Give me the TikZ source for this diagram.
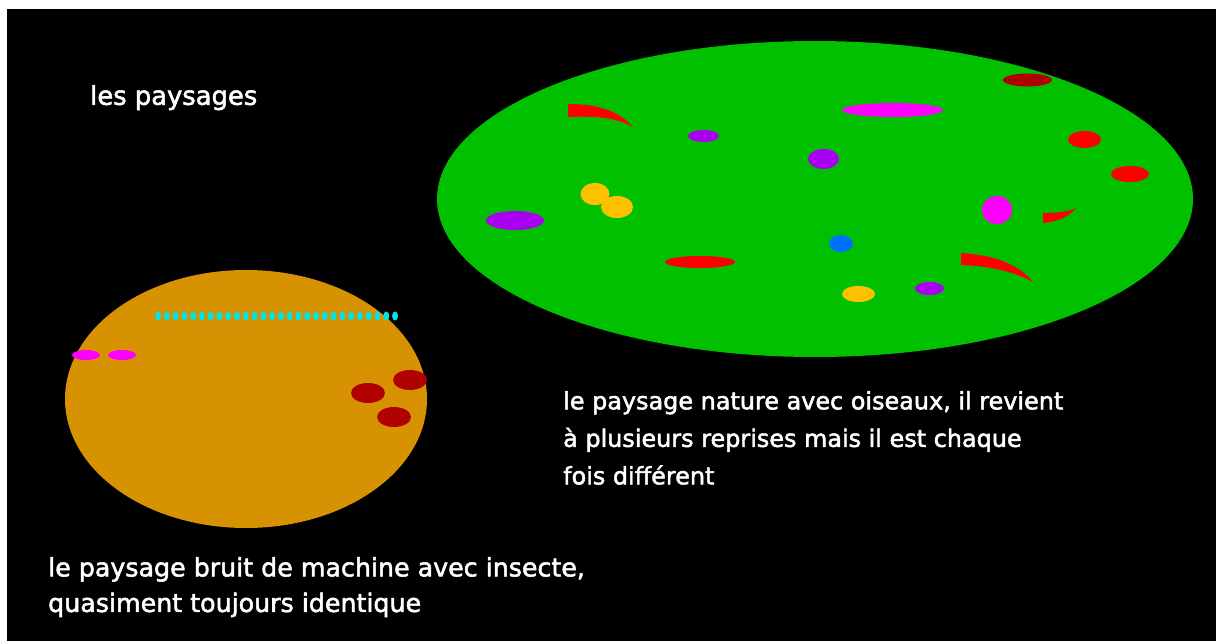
\documentclass[tikz,border=0pt]{standalone}
\usepackage{fontspec}
\setmainfont{DejaVu Sans}[BoldFont={DejaVu Sans}, BoldFeatures={FakeBold=2}]
\definecolor{bggreen}{RGB}{0,192,0}
\definecolor{bgorange}{RGB}{214,146,0}
\definecolor{dred}{RGB}{176,0,0}
\definecolor{bred}{RGB}{255,0,0}
\definecolor{purp}{RGB}{168,0,240}
\definecolor{magn}{RGB}{255,0,255}
\definecolor{yel}{RGB}{255,192,0}
\definecolor{blu}{RGB}{0,112,255}
\definecolor{cyn}{RGB}{0,228,228}
\tikzset{
  label text/.style={text=white, inner sep=0pt, anchor=north west, align=left},
}
\begin{document}
\begin{tikzpicture}[x=1pt,y=-1pt]
\useasboundingbox (0,0) rectangle (1216,641);
\fill[white] (0,0) rectangle (1216,641);
\fill[black] (7,9) rectangle (1216,641);
% green landscape
\fill[bggreen] (815,199) ellipse[x radius=378pt, y radius=158pt];
\fill[bred] (568,104) .. controls (600,104) and (620,112) .. (633,127) .. controls (615,117) and (595,116) .. (568,117) -- cycle;
\fill[purp] (703.5,136) ellipse[x radius=15.5pt, y radius=6pt];
\fill[purp] (823.5,159) ellipse[x radius=15.5pt, y radius=10pt];
\fill[yel] (595,194) ellipse[x radius=14.5pt, y radius=11pt];
\fill[yel] (617,207) ellipse[x radius=16pt, y radius=11pt];
\fill[purp] (515,220.5) ellipse[x radius=29pt, y radius=9.5pt];
\fill[bred] (700,262) ellipse[x radius=35pt, y radius=6pt];
\fill[blu] (841,243.5) ellipse[x radius=12pt, y radius=8.5pt];
\fill[dred] (1027.5,80) ellipse[x radius=24.5pt, y radius=6.5pt];
\fill[magn] (892.5,110) ellipse[x radius=50.5pt, y radius=7pt];
\fill[bred] (1084.5,139.5) ellipse[x radius=16.5pt, y radius=8.5pt];
\fill[bred] (1130,174) ellipse[x radius=19pt, y radius=8pt];
\fill[magn] (997,210) ellipse[x radius=15pt, y radius=14pt];
\fill[bred] (1043,213) .. controls (1060,213) and (1070,211) .. (1076,208) .. controls (1068,218) and (1055,222) .. (1043,223) -- cycle;
\fill[bred] (961,253) .. controls (995,255) and (1020,265) .. (1033,282) .. controls (1015,272) and (990,266) .. (961,265) -- cycle;
\fill[yel] (858.5,294) ellipse[x radius=16.5pt, y radius=8pt];
\fill[purp] (929.5,288.5) ellipse[x radius=14.5pt, y radius=6.5pt];
% orange landscape
\fill[bgorange] (246,399) ellipse[x radius=181pt, y radius=129pt];
\foreach \i in {0,...,27} \fill[cyn] ({158+\i*8.78},316) ellipse[x radius=3pt, y radius=4.5pt];
\fill[magn] (86,355) ellipse[x radius=14pt, y radius=5pt];
\fill[magn] (122,355) ellipse[x radius=14pt, y radius=5pt];
\fill[dred] (410,380) ellipse[x radius=17pt, y radius=10pt];
\fill[dred] (368,393) ellipse[x radius=17pt, y radius=10pt];
\fill[dred] (394,417) ellipse[x radius=17pt, y radius=10pt];
% texts
\node[label text, font=\bfseries\fontsize{25.8}{35}\selectfont] (title) at (90,85) {les paysages};
\node[label text, font=\bfseries\fontsize{23.9}{37.5}\selectfont] (nature) at (563,391) {le paysage nature avec oiseaux, il revient\\à plusieurs reprises mais il est chaque\\fois différent};
\node[label text, font=\bfseries\fontsize{25.3}{35.5}\selectfont] (machine) at (48,557) {le paysage bruit de machine avec insecte,\\quasiment toujours identique};
\end{tikzpicture}
\end{document}
